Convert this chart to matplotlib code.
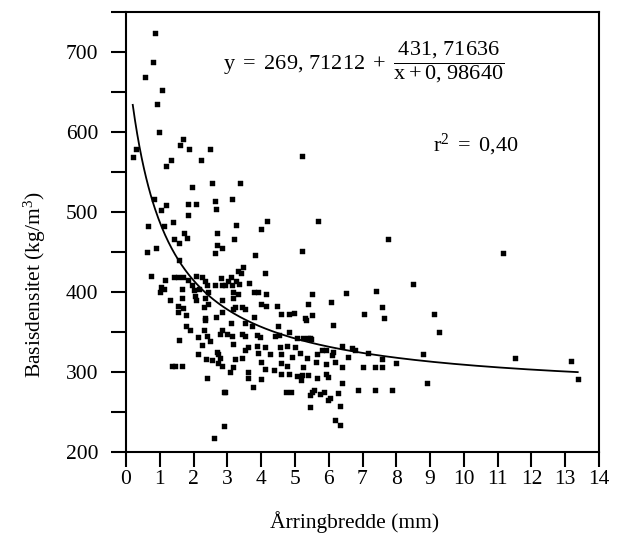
import matplotlib
matplotlib.use("Agg")
import matplotlib.pyplot as plt
import numpy as np
from matplotlib.ticker import MultipleLocator

plt.rcParams['font.family'] = ['Liberation Serif', 'DejaVu Serif']
plt.rcParams['mathtext.fontset'] = 'custom'
plt.rcParams['mathtext.rm'] = 'Liberation Serif'
plt.rcParams['mathtext.it'] = 'Liberation Serif:italic'

# Scatter data: ring width (mm) and basic density (kg/m3)
ring_width = [
    0.85, 0.79, 0.56, 1.06, 0.92, 0.99, 1.68, 1.61, 1.87, 2.50, 0.31, 0.21, 1.32, 1.18, 2.22,
    1.95, 2.56, 3.38, 0.82, 2.64, 3.13, 1.17, 1.04, 1.84, 2.07, 2.66, 1.84, 0.66, 1.13, 1.38,
    1.71, 1.80, 1.43, 1.57, 2.69, 2.69, 2.85, 2.62, 0.89, 0.61, 1.57, 0.74, 1.15, 1.43, 1.55,
    1.70, 1.84, 2.07, 2.26, 2.34, 1.04, 1.11, 1.01, 1.65, 1.95, 2.00, 2.16, 2.41, 2.62, 2.83,
    2.43, 2.05, 1.30, 1.67, 2.07, 2.34, 1.55, 1.70, 1.79, 2.32, 2.43, 2.34, 2.66,
    3.26, 4.17, 4.01, 3.20, 3.82, 5.21, 3.47, 3.32, 3.40, 4.10, 2.81, 3.11, 3.03, 3.25, 2.93,
    3.13, 3.34, 3.65, 3.18, 3.31, 3.18, 3.80, 3.91, 4.14, 5.50, 2.83, 4.01, 4.14, 4.46, 5.38,
    3.23, 3.42, 3.52, 3.18, 4.58, 4.81, 4.97, 3.80, 5.51, 5.30,
    1.55, 2.34, 1.79, 1.89, 2.31, 2.39, 2.49, 2.78, 2.85, 1.57, 2.12, 2.24, 2.12, 2.36, 2.56,
    2.72, 2.78, 2.73, 2.83, 1.35, 1.46, 1.65, 2.39, 2.91, 2.91, 2.59,
    2.83, 5.32, 3.11, 3.52, 3.72, 4.51, 2.98, 3.13, 3.42, 3.52, 3.87, 3.96, 4.41, 4.53, 4.83,
    5.05, 5.25, 5.45, 3.18, 3.52, 3.62, 3.87, 4.10, 4.55, 4.76, 5.00, 2.69, 3.91, 4.26, 4.60,
    4.90, 5.16, 5.35, 3.23, 3.42, 3.99, 4.60, 4.76, 5.25, 3.18, 4.12, 4.39, 3.08, 3.62, 4.60,
    4.81, 5.05, 5.22, 5.40, 3.62, 4.01, 5.18, 2.93, 3.77, 4.73, 4.88, 5.50, 5.45, 5.45,
    8.49, 6.50, 7.39, 6.07, 7.59, 7.04, 7.64, 6.13, 5.38, 5.48, 6.40, 6.68, 6.78, 7.15, 5.80,
    5.91, 6.13, 5.64, 6.09, 6.56, 7.59, 7.99, 5.61, 6.18, 5.91, 6.40, 7.02, 7.37, 7.57, 5.64,
    5.91, 5.99, 6.40, 5.57, 5.75, 5.87, 6.04, 5.97, 6.27, 6.88, 7.37, 7.87, 6.34, 6.18, 6.34,
    5.67, 7.74, 9.13, 9.27, 8.78, 8.90, 11.17, 11.50, 13.16, 13.37, 5.21,
]
density = [
    724, 687, 669, 652, 635, 600, 591, 583, 579, 579, 579, 568, 565, 557, 565,
    531, 536, 536, 516, 514, 516, 508, 502, 510, 510, 503, 496, 482, 482, 487,
    473, 467, 466, 461, 473, 459, 455, 449, 455, 450, 440, 420, 415, 418, 419,
    418, 415, 420, 419, 414, 406, 403, 400, 403, 408, 402, 404, 408, 408, 408,
    400, 395, 390, 392, 390, 392, 383, 380, 371, 381, 385, 367, 369,
    484, 489, 478, 466, 446, 451, 431, 426, 423, 423, 417, 419, 414, 414, 409,
    408, 410, 411, 400, 397, 392, 400, 400, 397, 397, 390, 385, 382, 382, 385,
    381, 381, 379, 379, 373, 373, 374, 369, 371, 367,
    375, 365, 357, 352, 352, 345, 339, 348, 352, 340, 344, 334, 323, 316, 315,
    323, 317, 311, 308, 307, 307, 307, 292, 275, 232, 217,
    375, 365, 361, 361, 358, 358, 347, 345, 348, 345, 346, 344, 345, 346, 350,
    343, 343, 342, 335, 328, 331, 333, 331, 331, 333, 331, 325, 324, 322, 322,
    319, 324, 317, 316, 317, 313, 311, 308, 306, 306, 304, 302, 300, 300, 297,
    298, 295, 296, 296, 292, 291, 290, 275, 281, 275, 275, 275, 271, 256,
    410, 399, 401, 387, 381, 373, 367, 359, 343, 341, 333, 330, 327, 324, 327,
    328, 325, 322, 321, 319, 316, 311, 312, 313, 310, 306, 306, 306, 306, 293,
    298, 294, 286, 278, 272, 275, 267, 265, 274, 277, 277, 277, 257, 240, 234,
    489, 466, 373, 350, 323, 286, 448, 317, 314, 291, 570,
]

# Fitted curve parameters
coef_a = 269.71212
coef_b = 431.71636
coef_c = 0.98640
curve_range = [0.2, 13.37]

x_ticks = list(range(0, 15))
y_ticks = [200, 300, 400, 500, 600, 700]

fig = plt.figure(figsize=(6.19, 5.44), dpi=100)
L, R, T, B = 126, 599, 11.7, 452
ax = fig.add_axes([L/619, 1-B/544, (R-L)/619, (B-T)/544])

ax.plot(ring_width, density, 's', ms=3.6, color='black', mec='black', mew=0.3, zorder=3)

xc = np.linspace(curve_range[0], curve_range[1], 400)
ax.plot(xc, coef_a + coef_b/(xc + coef_c), color='black', lw=1.3, zorder=2)

ax.set_xlim(0, 14)
ax.set_ylim(200, 750)
ax.set_xticks(x_ticks)
ax.set_yticks(y_ticks)
ax.yaxis.set_minor_locator(MultipleLocator(50))
ax.tick_params(axis='x', direction='out', length=11, width=1.5, labelsize=15.5, pad=2)
ax.tick_params(axis='y', which='both', direction='out', length=11, width=1.5, labelsize=15.5, pad=9)
for s in ax.spines.values():
    s.set_linewidth(1.5)

ax.text(0.502, 0.886,
        r'$\mathrm{y\ =\ 269,\,71212\ +\ }\dfrac{\mathrm{431,\,71636}}{\mathrm{x+0,\,98640}}$',
        transform=ax.transAxes, ha='center', va='center', fontsize=16)
ax.text(0.74, 0.697, r'$\mathrm{r}^{2}\mathrm{\ =\ 0{,}40}$',
        transform=ax.transAxes, ha='center', va='center', fontsize=16)

fig.text(35/619, 1-285/544, 'Basisdensitet (kg/m$^3$)', rotation=90,
         ha='center', va='center', fontsize=15.5)
fig.text(355/619, 1-522/544, 'Årringbredde (mm)', ha='center', va='center', fontsize=15.5)

fig.savefig('out.png', dpi=100)
